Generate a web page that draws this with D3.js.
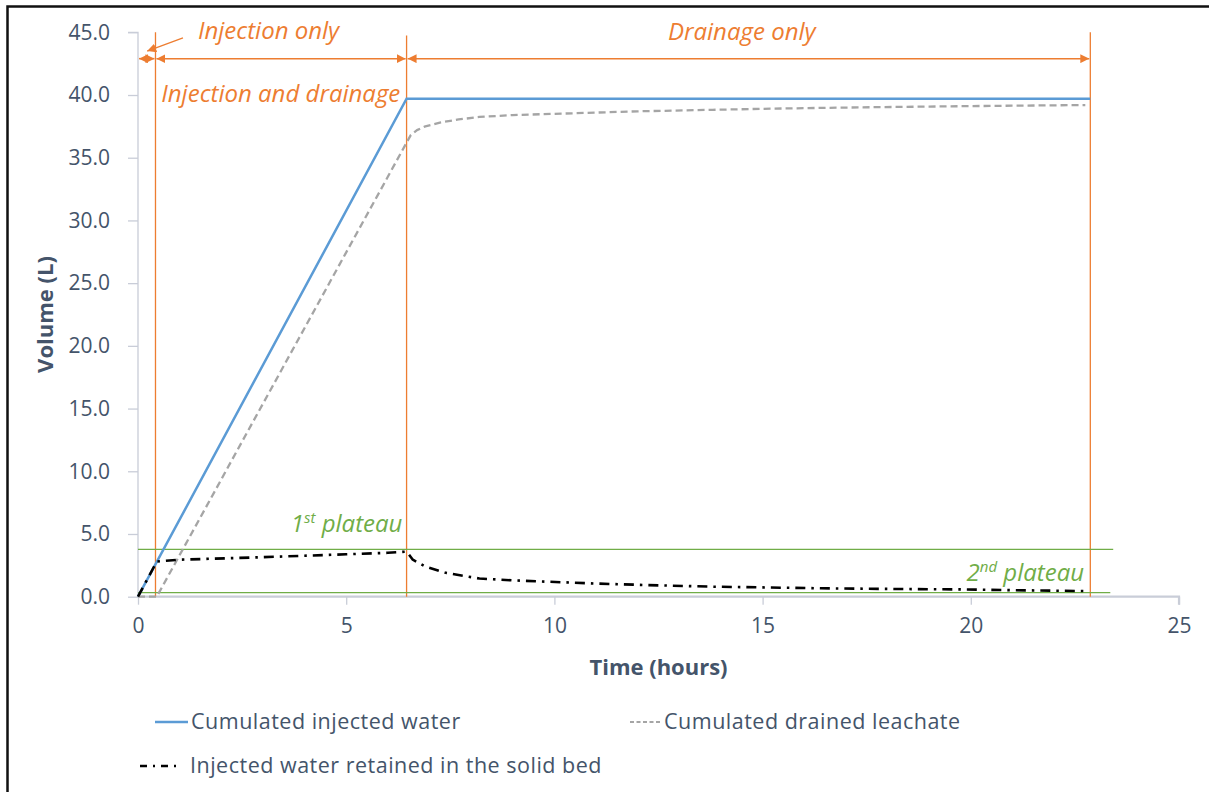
<!DOCTYPE html>
<html><head><meta charset="utf-8">
<script src="https://cdn.jsdelivr.net/npm/d3@7"></script>
<style>
html,body{margin:0;padding:0;background:#fff;}
svg{display:block;}
text{font-family:"Open Sans",sans-serif;}
</style></head>
<body>
<svg id="chart" width="1209" height="792"></svg>
<script>
// ---------- data ----------
const injectedT = [0, 6.45, 22.87];
const injectedV = [0, 39.7, 39.7];

const drainedT = [0, 0.45, 6.45, 6.55, 6.7, 6.9, 7.25, 7.7, 8.2, 9, 10, 11, 12, 13.8, 15, 17, 19, 21, 22.75];
const drainedV = [0, 0, 36.2, 36.8, 37.2, 37.5, 37.8, 38.05, 38.25, 38.4, 38.5, 38.6, 38.7, 38.82, 38.9, 39.0, 39.08, 39.15, 39.2];

const retainedT = [0, 0.45, 1, 3, 5, 6, 6.45, 6.6, 6.9, 7.4, 8.2, 9, 9.8, 11, 12.2, 13.8, 15, 16.4, 18, 19.9, 21, 22.75];
const retainedV = [0, 2.8, 2.95, 3.15, 3.38, 3.5, 3.6, 2.95, 2.4, 1.9, 1.45, 1.3, 1.2, 1.05, 0.93, 0.8, 0.74, 0.67, 0.62, 0.58, 0.52, 0.45];

const phaseBounds = [0.42, 6.45, 22.87];
const plateauLevels = [3.78, 0.33];
const plateauEnds = [23.42, 23.35];

const xTicks = [0, 5, 10, 15, 20, 25];
const yTicks = [0, 5, 10, 15, 20, 25, 30, 35, 40, 45];

const seriesNames = ["Cumulated injected water", "Cumulated drained leachate", "Injected water retained in the solid bed"];
const phaseLabels = ["Injection only", "Injection and drainage", "Drainage only"];
const plateauLabels = ["1", "st", " plateau", "2", "nd", " plateau"];

// ---------- setup ----------
const svg = d3.select("#chart");
const x = d3.scaleLinear().domain([0, 25]).range([138, 1179]);
const y = d3.scaleLinear().domain([0, 45]).range([596.7, 32.3]);

const ORANGE = "#ED7D31", GREEN = "#70AD47", BLUE = "#5B9BD5", GRAY = "#A5A5A5", TXT = "#44546A", AXIS = "#C9CDD8";

// outer frame (left + top)
svg.append("path").attr("d", "M7.5,792 L7.5,6.5 L1209,6.5").attr("fill","none").attr("stroke","#111").attr("stroke-width",2.5);

// markers
const defs = svg.append("defs");
function marker(id, orient){
  defs.append("marker").attr("id", id).attr("viewBox","0 0 10 10").attr("refX",10).attr("refY",5)
    .attr("markerWidth",9).attr("markerHeight",9).attr("markerUnits","userSpaceOnUse").attr("orient",orient)
    .append("path").attr("d","M0,0 L10,5 L0,10 Z").attr("fill",ORANGE);
}
marker("arrEnd","auto");
marker("arrStart","auto-start-reverse");

// ---------- axes ----------
const yAxis = d3.axisLeft(y).tickValues(yTicks).tickFormat(d3.format(".1f")).tickSize(10).tickPadding(18);
const gy = svg.append("g").attr("transform", `translate(${x(0)},0)`).call(yAxis);
gy.select(".domain").attr("stroke", AXIS).attr("stroke-width",1.3).attr("d", `M-10,${y(45)}H0V${y(0)}`);
gy.selectAll(".tick line").attr("stroke", AXIS).attr("stroke-width",1.3);
gy.selectAll(".tick text").attr("fill", TXT).style("font-size","21px").style("font-family","'Open Sans',sans-serif");

const xAxis = d3.axisBottom(x).tickValues(xTicks).tickFormat(d3.format("d")).tickSize(8).tickPadding(13);
const gx = svg.append("g").attr("transform", `translate(0,${y(0)})`).call(xAxis);
gx.select(".domain").attr("stroke", AXIS).attr("stroke-width",2.2).attr("d", `M${x(0)},0H${x(25)}V8`);
gx.selectAll(".tick line").attr("stroke", AXIS).attr("stroke-width",1.3);
gx.selectAll(".tick text").attr("fill", TXT).style("font-size","21px").style("font-family","'Open Sans',sans-serif");

svg.append("text").attr("x", x(12.5)).attr("y", 675).attr("text-anchor","middle")
  .attr("fill", TXT).style("font-size","22px").style("font-weight","bold").text("Time (hours)");
svg.append("text").attr("transform", `translate(53,${y(22.5)}) rotate(-90)`).attr("text-anchor","middle")
  .attr("fill", TXT).style("font-size","22px").style("font-weight","bold").text("Volume (L)");

// ---------- phase lines & arrows ----------
svg.selectAll("line.phase").data(phaseBounds).join("line").attr("class","phase")
  .attr("x1", d=>x(d)).attr("x2", d=>x(d)).attr("y1", (d,i)=> i===1 ? y(44.75) : y(45)).attr("y2", y(0))
  .attr("stroke", ORANGE).attr("stroke-width",1.3);

const arrowY = y(42.9);
const arrowSegs = [[0, phaseBounds[0]], [phaseBounds[0], phaseBounds[1]], [phaseBounds[1], phaseBounds[2]]];
svg.selectAll("line.arr").data(arrowSegs).join("line").attr("class","arr")
  .attr("x1", d=>x(d[0])+1).attr("x2", d=>x(d[1])-1).attr("y1", arrowY).attr("y2", arrowY)
  .attr("stroke", ORANGE).attr("stroke-width",1.5)
  .attr("marker-start","url(#arrStart)").attr("marker-end","url(#arrEnd)");

// pointer for "Injection only"
svg.append("line").attr("x1", x(1.08)).attr("y1", y(44.55)).attr("x2", x(0.22)).attr("y2", y(43.5))
  .attr("stroke", ORANGE).attr("stroke-width",1.3).attr("marker-end","url(#arrEnd)");

const lab = svg.append("g").attr("fill", ORANGE).style("font-size","24px").style("font-style","italic");
lab.append("text").attr("x", x(1.44)).attr("y", y(44.5)).text(phaseLabels[0]);
lab.append("text").attr("x", x(6.3)).attr("y", y(39.45)).attr("text-anchor","end").text(phaseLabels[1]);
lab.append("text").attr("x", x(14.5)).attr("y", y(44.4)).attr("text-anchor","middle").text(phaseLabels[2]);

// ---------- plateaus ----------
svg.selectAll("line.plat").data(plateauLevels).join("line").attr("class","plat")
  .attr("x1", x(0)).attr("x2", (d,i)=>x(plateauEnds[i])).attr("y1", d=>y(d)).attr("y2", d=>y(d))
  .attr("stroke", GREEN).attr("stroke-width",1.3);

const p1 = svg.append("text").attr("x", x(3.67)).attr("y", y(5.15)).attr("fill", GREEN)
  .style("font-size","24px").style("font-style","italic");
p1.append("tspan").text(plateauLabels[0]);
p1.append("tspan").attr("dy",-9).style("font-size","15px").text(plateauLabels[1]);
p1.append("tspan").attr("dy",9).text(plateauLabels[2]);

const p2 = svg.append("text").attr("x", x(22.72)).attr("y", y(1.24)).attr("fill", GREEN).attr("text-anchor","end")
  .style("font-size","24px").style("font-style","italic");
p2.append("tspan").text(plateauLabels[3]);
p2.append("tspan").attr("dy",-9).style("font-size","15px").text(plateauLabels[4]);
p2.append("tspan").attr("dy",9).text(plateauLabels[5]);

// ---------- series ----------
const line = d3.line().x(d=>x(d[0])).y(d=>y(d[1]));

svg.append("path").datum(injectedT.map((t,i)=>[t, injectedV[i]])).attr("d", line)
  .attr("fill","none").attr("stroke", BLUE).attr("stroke-width",2.5);
svg.append("path").datum(drainedT.map((t,i)=>[t, drainedV[i]])).attr("d", line)
  .attr("fill","none").attr("stroke", GRAY).attr("stroke-width",2.3).attr("stroke-dasharray","7,4")
  .attr("stroke-linejoin","round");
svg.append("path").datum(retainedT.map((t,i)=>[t, retainedV[i]])).attr("d", line)
  .attr("fill","none").attr("stroke", "#000").attr("stroke-width",2.6).attr("stroke-dasharray","10,6,2.5,6")
  .attr("stroke-linejoin","round");

// ---------- legend ----------
const leg = svg.append("g").style("font-size","21.5px").style("letter-spacing","0.5px").attr("fill", TXT);
const legItems = [
  {x1:155, x2:188, tx:191, ly:722, color:BLUE, dash:null, w:2.5},
  {x1:630, x2:661, tx:664, ly:722, color:GRAY, dash:"4,2.5", w:1.8},
  {x1:140, x2:178, tx:190, ly:766, color:"#000", dash:"7,6,2,6", w:2.4}
];
legItems.forEach((it,i)=>{
  leg.append("line").attr("x1",it.x1).attr("x2",it.x2).attr("y1",it.ly).attr("y2",it.ly)
    .attr("stroke",it.color).attr("stroke-width",it.w).attr("stroke-dasharray",it.dash);
  leg.append("text").attr("x",it.tx).attr("y",it.ly+7).text(seriesNames[i]);
});
</script>
</body></html>
